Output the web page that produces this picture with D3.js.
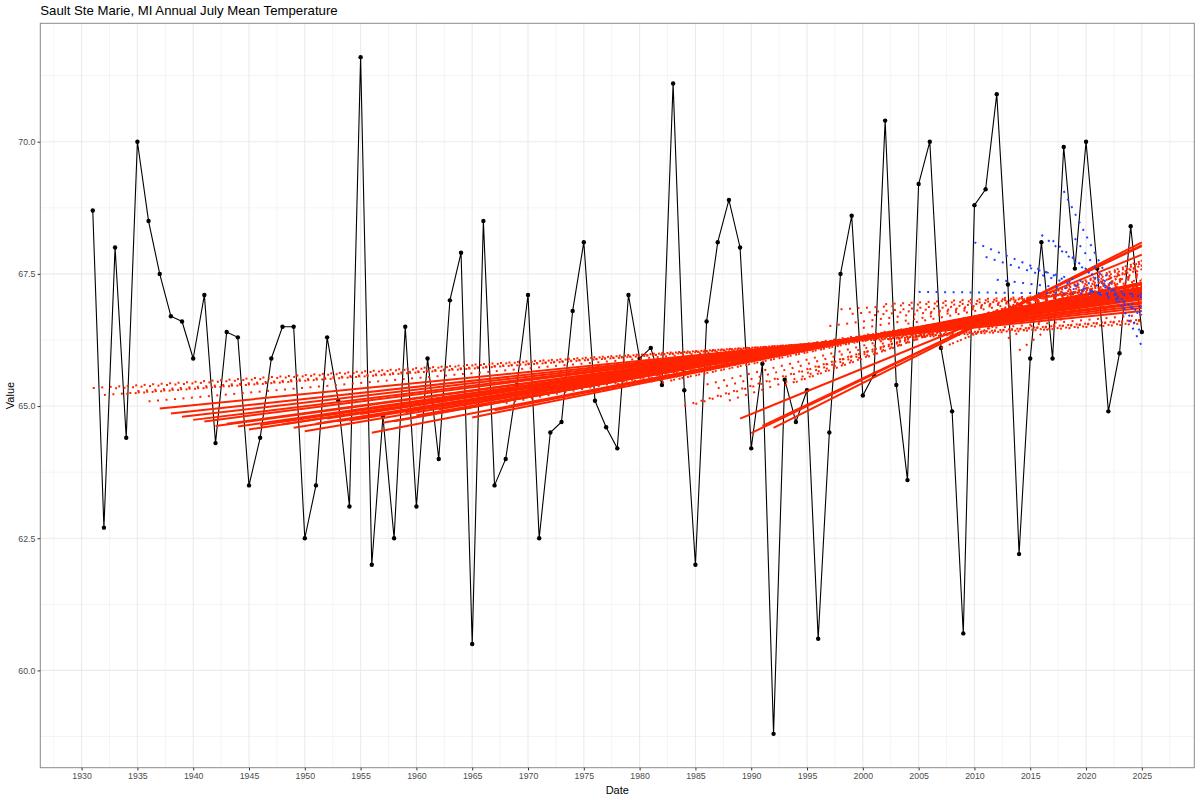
<!DOCTYPE html>
<html>
<head>
<meta charset="utf-8">
<script src="https://cdn.jsdelivr.net/npm/d3@7"></script>
<style>
  body { margin: 0; background: #fff; }
  svg text { font-family: "Liberation Sans", Arial, Helvetica, sans-serif; }
</style>
</head>
<body>
<div id="chart"></div>
<script>
// July mean temperature, one row per decade
const years = [
  1931, 1932, 1933, 1934, 1935, 1936, 1937, 1938, 1939, 1940,
  1941, 1942, 1943, 1944, 1945, 1946, 1947, 1948, 1949, 1950,
  1951, 1952, 1953, 1954, 1955, 1956, 1957, 1958, 1959, 1960,
  1961, 1962, 1963, 1964, 1965, 1966, 1967, 1968, 1969, 1970,
  1971, 1972, 1973, 1974, 1975, 1976, 1977, 1978, 1979, 1980,
  1981, 1982, 1983, 1984, 1985, 1986, 1987, 1988, 1989, 1990,
  1991, 1992, 1993, 1994, 1995, 1996, 1997, 1998, 1999, 2000,
  2001, 2002, 2003, 2004, 2005, 2006, 2007, 2008, 2009, 2010,
  2011, 2012, 2013, 2014, 2015, 2016, 2017, 2018, 2019, 2020,
  2021, 2022, 2023, 2024, 2025
];
const temps = [
  68.7, 62.7, 68.0, 64.4, 70.0, 68.5, 67.5, 66.7, 66.6, 65.9,
  67.1, 64.3, 66.4, 66.3, 63.5, 64.4, 65.9, 66.5, 66.5, 62.5,
  63.5, 66.3, 65.1, 63.1, 71.6, 62.0, 64.8, 62.5, 66.5, 63.1,
  65.9, 64.0, 67.0, 67.9, 60.5, 68.5, 63.5, 64.0, 65.4, 67.1,
  62.5, 64.5, 64.7, 66.8, 68.1, 65.1, 64.6, 64.2, 67.1, 65.9,
  66.1, 65.4, 71.1, 65.3, 62.0, 66.6, 68.1, 68.9, 68.0, 64.2,
  65.8, 58.8, 65.5, 64.7, 65.3, 60.6, 64.5, 67.5, 68.6, 65.2,
  65.6, 70.4, 65.4, 63.6, 69.2, 70.0, 66.1, 64.9, 60.7, 68.8,
  69.1, 70.9, 67.3, 62.2, 65.9, 68.1, 65.9, 69.9, 67.6, 70.0,
  67.6, 64.9, 66.0, 68.4, 66.4
];

// trend lines: one least-squares fit from each start year to the last year
const firstTrendStart = 1931;
const lastTrendStart = 2019;
const pLimit = 0.05;

const xTicks = [1930, 1935, 1940, 1945, 1950, 1955, 1960, 1965, 1970, 1975,
                1980, 1985, 1990, 1995, 2000, 2005, 2010, 2015, 2020, 2025];
const yTicks = [60, 62.5, 65, 67.5, 70];

const width = 1200, height = 800;
const panel = { left: 40.3, top: 23.3, right: 1194.3, bottom: 767.7 };

const data = years.map((y, i) => ({ year: y, value: temps[i] }));

// ---- stats helpers (t test on the slope) ----
function lgamma(z) {
    const g = 7;
    const c = [0.99999999999980993, 676.5203681218851, -1259.1392167224028,
        771.32342877765313, -176.61502916214059, 12.507343278686905,
        -0.13857109526572012, 9.9843695780195716e-6, 1.5056327351493116e-7];
    if (z < 0.5) return Math.log(Math.PI / Math.sin(Math.PI * z)) - lgamma(1 - z);
    z -= 1;
    let x = c[0];
    for (let i = 1; i < g + 2; i++) x += c[i] / (z + i);
    const t = z + g + 0.5;
    return 0.5 * Math.log(2 * Math.PI) + (z + 0.5) * Math.log(t) - t + Math.log(x);
}
function betacf(a, b, x) {
    const maxIt = 200, eps = 3e-14, fpmin = 1e-300;
    let qab = a + b, qap = a + 1, qam = a - 1;
    let c = 1, d = 1 - qab * x / qap;
    if (Math.abs(d) < fpmin) d = fpmin;
    d = 1 / d;
    let h = d;
    for (let m = 1; m <= maxIt; m++) {
        const m2 = 2 * m;
        let aa = m * (b - m) * x / ((qam + m2) * (a + m2));
        d = 1 + aa * d; if (Math.abs(d) < fpmin) d = fpmin;
        c = 1 + aa / c; if (Math.abs(c) < fpmin) c = fpmin;
        d = 1 / d; h *= d * c;
        aa = -(a + m) * (qab + m) * x / ((a + m2) * (qap + m2));
        d = 1 + aa * d; if (Math.abs(d) < fpmin) d = fpmin;
        c = 1 + aa / c; if (Math.abs(c) < fpmin) c = fpmin;
        d = 1 / d;
        const del = d * c;
        h *= del;
        if (Math.abs(del - 1) < eps) break;
    }
    return h;
}
function ibeta(x, a, b) {
    if (x <= 0) return 0;
    if (x >= 1) return 1;
    const bt = Math.exp(lgamma(a + b) - lgamma(a) - lgamma(b) + a * Math.log(x) + b * Math.log(1 - x));
    if (x < (a + 1) / (a + b + 2)) return bt * betacf(a, b, x) / a;
    return 1 - bt * betacf(b, a, 1 - x) / b;
}
function fitTrend(rows) {
    const n = rows.length;
    const mx = d3.mean(rows, d => d.year), my = d3.mean(rows, d => d.value);
    let sxx = 0, sxy = 0;
    rows.forEach(d => { sxx += (d.year - mx) ** 2; sxy += (d.year - mx) * (d.value - my); });
    const slope = sxy / sxx;
    const icpt = my - slope * mx;
    let sse = 0;
    rows.forEach(d => { sse += (d.value - icpt - slope * d.year) ** 2; });
    const df = n - 2;
    const se = Math.sqrt(sse / df / sxx);
    const t = slope / se;
    const p = ibeta(df / (df + t * t), df / 2, 0.5);
    return { slope, icpt, p };
}

const lastYear = d3.max(years);
const trends = years.filter(y => y >= firstTrendStart && y <= lastTrendStart).map(start => {
    const f = fitTrend(data.filter(d => d.year >= start));
    return {
        start,
        y0: f.icpt + f.slope * start,
        y1: f.icpt + f.slope * lastYear,
        up: f.slope > 0,
        sig: f.p < pLimit
    };
});

// ---- scales (ggplot style 5% expansion) ----
const xExt = d3.extent(years), yExt = d3.extent(temps);
const xPad = (xExt[1] - xExt[0]) * 0.05, yPad = (yExt[1] - yExt[0]) * 0.05;
const x = d3.scaleLinear().domain([xExt[0] - xPad, xExt[1] + xPad]).range([panel.left, panel.right]);
const y = d3.scaleLinear().domain([yExt[0] - yPad, yExt[1] + yPad]).range([panel.bottom, panel.top]);

const svg = d3.select("#chart").append("svg")
    .attr("width", width)
    .attr("height", height);

// grid
const xMinor = xTicks.map(t => t - 2.5).concat([xTicks[xTicks.length - 1] + 2.5])
    .filter(t => t > x.domain()[0] && t < x.domain()[1]);
const yMinor = yTicks.map(t => t - 1.25).concat([yTicks[yTicks.length - 1] + 1.25])
    .filter(t => t > y.domain()[0] && t < y.domain()[1]);

const grid = svg.append("g");
grid.selectAll(".xminor").data(xMinor).join("line")
    .attr("x1", d => x(d)).attr("x2", d => x(d))
    .attr("y1", panel.top).attr("y2", panel.bottom)
    .attr("stroke", "#ebebeb").attr("stroke-width", 0.55);
grid.selectAll(".yminor").data(yMinor).join("line")
    .attr("y1", d => y(d)).attr("y2", d => y(d))
    .attr("x1", panel.left).attr("x2", panel.right)
    .attr("stroke", "#ebebeb").attr("stroke-width", 0.55);
grid.selectAll(".xmajor").data(xTicks).join("line")
    .attr("x1", d => x(d)).attr("x2", d => x(d))
    .attr("y1", panel.top).attr("y2", panel.bottom)
    .attr("stroke", "#ebebeb").attr("stroke-width", 1.1);
grid.selectAll(".ymajor").data(yTicks).join("line")
    .attr("y1", d => y(d)).attr("y2", d => y(d))
    .attr("x1", panel.left).attr("x2", panel.right)
    .attr("stroke", "#ebebeb").attr("stroke-width", 1.1);

// observed series
const line = d3.line().x(d => x(d.year)).y(d => y(d.value));
svg.append("path")
    .datum(data)
    .attr("d", line)
    .attr("fill", "none")
    .attr("stroke", "#000")
    .attr("stroke-width", 1.1);

svg.append("g").selectAll("circle").data(data).join("circle")
    .attr("cx", d => x(d.year))
    .attr("cy", d => y(d.value))
    .attr("r", 2.2)
    .attr("fill", "#000");

// trend lines, drawn over the series
svg.append("g").selectAll("line").data(trends).join("line")
    .attr("x1", d => x(d.start))
    .attr("y1", d => y(d.y0))
    .attr("x2", x(lastYear))
    .attr("y2", d => y(d.y1))
    .attr("stroke", d => d.up ? "#ff2400" : "#2040ff")
    .attr("stroke-width", 2)
    .attr("stroke-dasharray", d => d.sig ? null : "2 6.5");

// panel border
svg.append("rect")
    .attr("x", panel.left).attr("y", panel.top)
    .attr("width", panel.right - panel.left)
    .attr("height", panel.bottom - panel.top)
    .attr("fill", "none")
    .attr("stroke", "#8a8a8a")
    .attr("stroke-width", 1);

// axes
const xAxis = svg.append("g")
    .attr("transform", `translate(0,${panel.bottom})`)
    .call(d3.axisBottom(x).tickValues(xTicks).tickFormat(d3.format("d")).tickSize(2.75).tickPadding(2.5));
const yAxis = svg.append("g")
    .attr("transform", `translate(${panel.left},0)`)
    .call(d3.axisLeft(y).tickValues(yTicks).tickFormat(d3.format(".1f")).tickSize(2.75).tickPadding(2.2));

[xAxis, yAxis].forEach(ax => {
    ax.select(".domain").remove();
    ax.selectAll(".tick line").attr("stroke", "#333333").attr("stroke-width", 1);
    ax.selectAll(".tick text")
        .attr("fill", "#4d4d4d")
        .style("font-size", "8.8px")
        .style("font-family", "'Liberation Sans', Arial, sans-serif");
});

// titles
svg.append("text")
    .attr("x", panel.left)
    .attr("y", 15)
    .style("font-size", "13.2px")
    .attr("fill", "#000")
    .text("Sault Ste Marie, MI Annual July Mean Temperature");

svg.append("text")
    .attr("x", (panel.left + panel.right) / 2)
    .attr("y", 794)
    .attr("text-anchor", "middle")
    .style("font-size", "11px")
    .text("Date");

svg.append("text")
    .attr("transform", `translate(14,${(panel.top + panel.bottom) / 2}) rotate(-90)`)
    .attr("text-anchor", "middle")
    .style("font-size", "11px")
    .text("Value");
</script>
</body>
</html>
